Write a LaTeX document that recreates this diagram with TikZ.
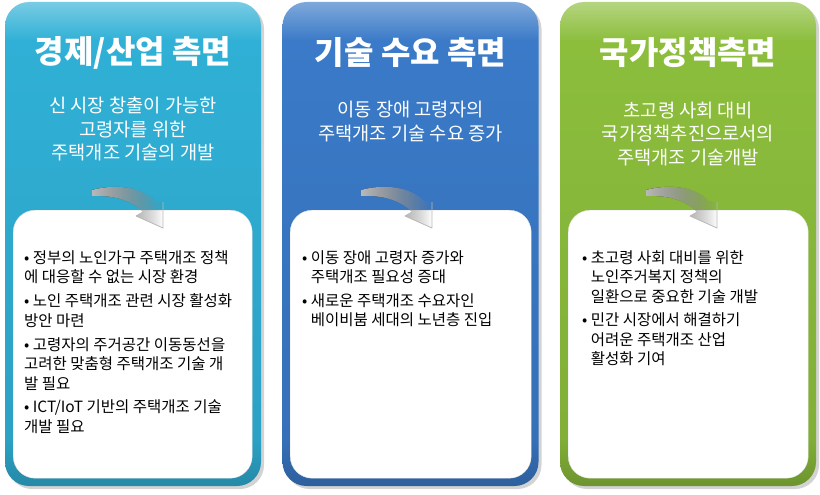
\documentclass[tikz,border=0pt]{standalone}
\usepackage{fontspec}
\setmainfont{Noto Sans CJK KR}
\usetikzlibrary{positioning,shadows,fadings}

\definecolor{econ}{RGB}{48,176,214}
\definecolor{tech}{RGB}{58,122,200}
\definecolor{policy}{RGB}{140,190,60}
\newcommand{\bulletgap}{\phantom{•\ }}
% panel gradients: bottom darker, thin light band on top
\pgfdeclareverticalshading{econshade}{100bp}{color(0bp)=(econ!78!black); color(25bp)=(econ!78!black);
  color(30bp)=(econ!92!black); color(71bp)=(econ); color(75bp)=(econ!65!white); color(100bp)=(econ!65!white)}
\pgfdeclareverticalshading{techshade}{100bp}{color(0bp)=(tech!78!black); color(25bp)=(tech!78!black);
  color(30bp)=(tech!92!black); color(71bp)=(tech); color(75bp)=(tech!65!white); color(100bp)=(tech!65!white)}
\pgfdeclareverticalshading{policyshade}{100bp}{color(0bp)=(policy!78!black); color(25bp)=(policy!78!black);
  color(30bp)=(policy!92!black); color(71bp)=(policy); color(75bp)=(policy!65!white); color(100bp)=(policy!65!white)}

\begin{document}
\begin{tikzpicture}[x=1pt, y=-1pt,
    panel/.style = {rounded corners=24pt, minimum width=256pt, minimum height=484pt, inner sep=0pt,
                    drop shadow={shadow xshift=3pt, shadow yshift=-3pt, opacity=.35}},
    sheet/.style = {fill=white, draw=black!12, rounded corners=22pt, inner sep=0pt, minimum height=268pt},
    title/.style = {text=white, font=\bfseries\fontsize{32}{36}\selectfont},
    sub/.style = {text=white, align=center, font=\fontsize{18.7}{23.5}\selectfont},
    item/.style = {align=left, inner sep=0pt, anchor=north west, font=\fontsize{15.5}{19.5}\selectfont},
    curvy/.pic = {
        \fill[left color=gray!55, right color=white, path fading=east]
            (-71,-38) .. controls (-45,-45) and (-20,-40) .. (-8,-27)
            -- (0,-26) -- (0,0) -- (-27,-12) -- (-20,-16)
            .. controls (-32,-28) and (-50,-33) .. (-71,-32) -- cycle;
        \draw[gray!55, line width=.8pt, line join=round]
            (-20,-16) -- (-27,-12) -- (0,0) -- (0,-26);
    }]
\useasboundingbox (0,0) rectangle (820,495);

% Panels
\node[panel, shading=econshade] (p1) at (133,244) {};
\node[panel, shading=techshade] (p2) at (410.5,244) {};
\node[panel, shading=policyshade] (p3) at (688,244) {};

% Titles
\node[title] (t1) at (133,53) {경제/산업 측면};
\node[title] (t2) at (410.5,53) {기술 수요 측면};
\node[title] (t3) at (688,53) {국가정책측면};

\node[sub] (s1) at (133,129) {신 시장 창출이 가능한\\고령자를 위한\\주택개조 기술의 개발};
\node[sub] (s2) at (410.5,121.5) {이동 장애 고령자의\\주택개조 기술 수요 증가};
\node[sub] (s3) at (688,133.5) {초고령 사회 대비\\국가정책추진으로서의\\주택개조 기술개발};

% White sheets
\node[sheet, minimum width=239pt, anchor=north west] (w1) at (13,210) {};
\node[sheet, minimum width=241pt, anchor=north west] (w2) at (290,210) {};
\node[sheet, minimum width=240pt, anchor=north west] (w3) at (568,210) {};

\pic at (163,228) {curvy};
\pic at (432,228) {curvy};
\pic at (717,228) {curvy};

% Bullets
\node[item] (e1) at (24,250) {• 정부의 노인가구 주택개조 정책\\에 대응할 수 없는 시장 환경};
\node[item, below right=9.5pt and 0pt of e1.south west] (e2) {• 노인 주택개조 관련 시장 활성화\\방안 마련};
\node[item, below right=9.5pt and 0pt of e2.south west] (e3) {• 고령자의 주거공간 이동동선을\\고려한 맞춤형 주택개조 기술 개\\발 필요};
\node[item, below right=9.5pt and 0pt of e3.south west] (e4) {• ICT/IoT 기반의 주택개조 기술\\개발 필요};

\node[item] (d1) at (302,250) {• 이동 장애 고령자 증가와\\\bulletgap 주택개조 필요성 증대};
\node[item, below right=9.5pt and 0pt of d1.south west] (d2) {• 새로운 주택개조 수요자인\\\bulletgap 베이비붐 세대의 노년층 진입};

\node[item] (n1) at (582,250) {• 초고령 사회 대비를 위한\\\bulletgap 노인주거복지 정책의\\\bulletgap 일환으로 중요한 기술 개발};
\node[item, below right=9.5pt and 0pt of n1.south west] (n2) {• 민간 시장에서 해결하기\\\bulletgap 어려운 주택개조 산업\\\bulletgap 활성화 기여};
\end{tikzpicture}
\end{document}
